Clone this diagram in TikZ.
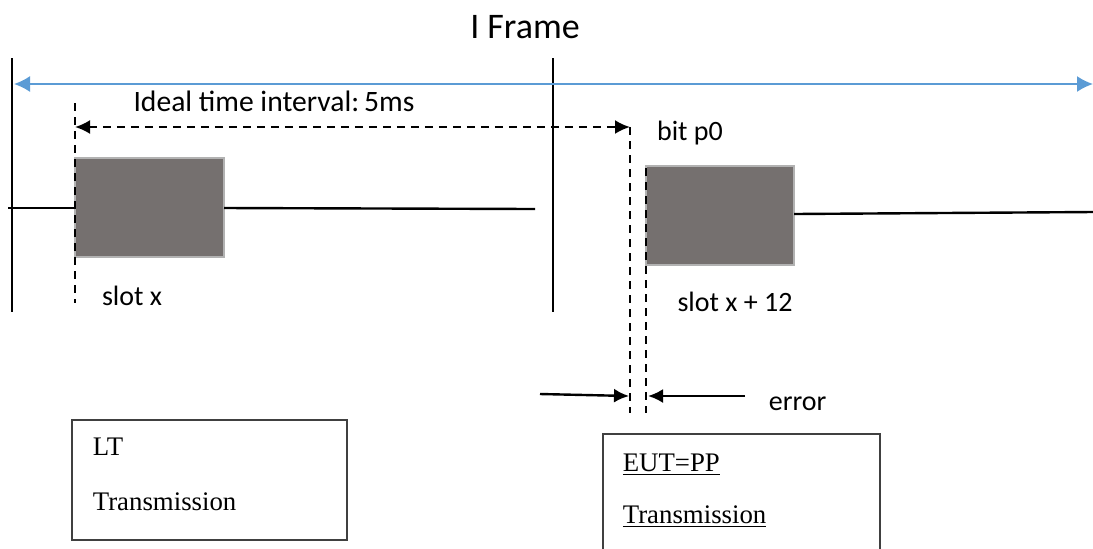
\documentclass[tikz,border=0pt]{standalone}
\usepackage{fontspec}
\setmainfont{Liberation Serif}
\newfontfamily\calibri{Carlito}
\usetikzlibrary{arrows.meta}
\definecolor{slotgray}{RGB}{117,112,111}
\definecolor{frameblue}{RGB}{91,155,213}
\tikzset{
  slotbox/.style={fill=slotgray, draw=black!30, line width=1.2pt},
  marker/.style={dashed, dash pattern=on 4pt off 3pt, line width=1.1pt},
  lbl/.style={font=\calibri\fontsize{14}{16}\selectfont},
  txbox/.style={draw=black!75, line width=0.7pt},
  txt/.style={anchor=west, font=\fontsize{13.4}{15}\selectfont}
}
\begin{document}
\begin{tikzpicture}[x=0.5pt,y=-0.5pt, line width=1.2pt, >={Latex[length=7.5pt,width=7pt]}]
\useasboundingbox (0,0) rectangle (1093,548);

\node[font=\calibri\fontsize{18}{20}\selectfont] (title) at (525,27) {I Frame};

% frame borders
\draw (12,58) -- (12,312);
\draw (553,58) -- (553,312);
\draw [frameblue, line width=0.9pt, {Latex[length=8pt,width=8pt]}-{Latex[length=8pt,width=8pt]}] (14,84) -- (1093,84);

% slots
\draw (8,208) -- (75,208);
\draw [slotbox] (75,158) rectangle (224,257);
\draw (224,208) -- (535,209);

\draw [slotbox] (646,166) rectangle (794,265);
\draw (794,214) -- (1093,212);

% markers
\coordinate (ta) at (75,127);
\coordinate (tb) at (630,127);
\draw [marker] (75,103) -- (75,303);
\draw [marker] (630,127) -- (630,413);
\draw [marker] (646,168) -- (646,413);
\draw [marker, <->] (ta) -- (tb);

\node[font=\calibri\fontsize{14.8}{17}\selectfont] (ideal) at (274,101) {Ideal time interval:\,5ms};
\node[lbl] (bit) at (690,133) {bit p0};
\node[lbl] (slotx) at (132,296) {slot x};
\node[lbl] (slotxx) at (735,302) {slot x + 12};

% error
\coordinate (ea) at (540,394);
\coordinate (eb) at (745,396);
\draw [->] (ea) -- (629,396);
\draw [->] (eb) -- (648,396);
\node[lbl, anchor=west] (err) at (761,404) {error};

% captions
\draw [txbox] (72,420) rectangle (347,540);
\node[txt] (lt) at (85,447) {LT};
\node[txt] (lttx) at (85,502) {Transmission};

\draw [txbox] (603,556) -- (603,434) -- (880,434) -- (880,556);
\node[txt] (eut) at (615,465) {\underline{EUT=PP}};
\node[txt] (euttx) at (615,517) {\underline{Transmission}};
\end{tikzpicture}
\end{document}
